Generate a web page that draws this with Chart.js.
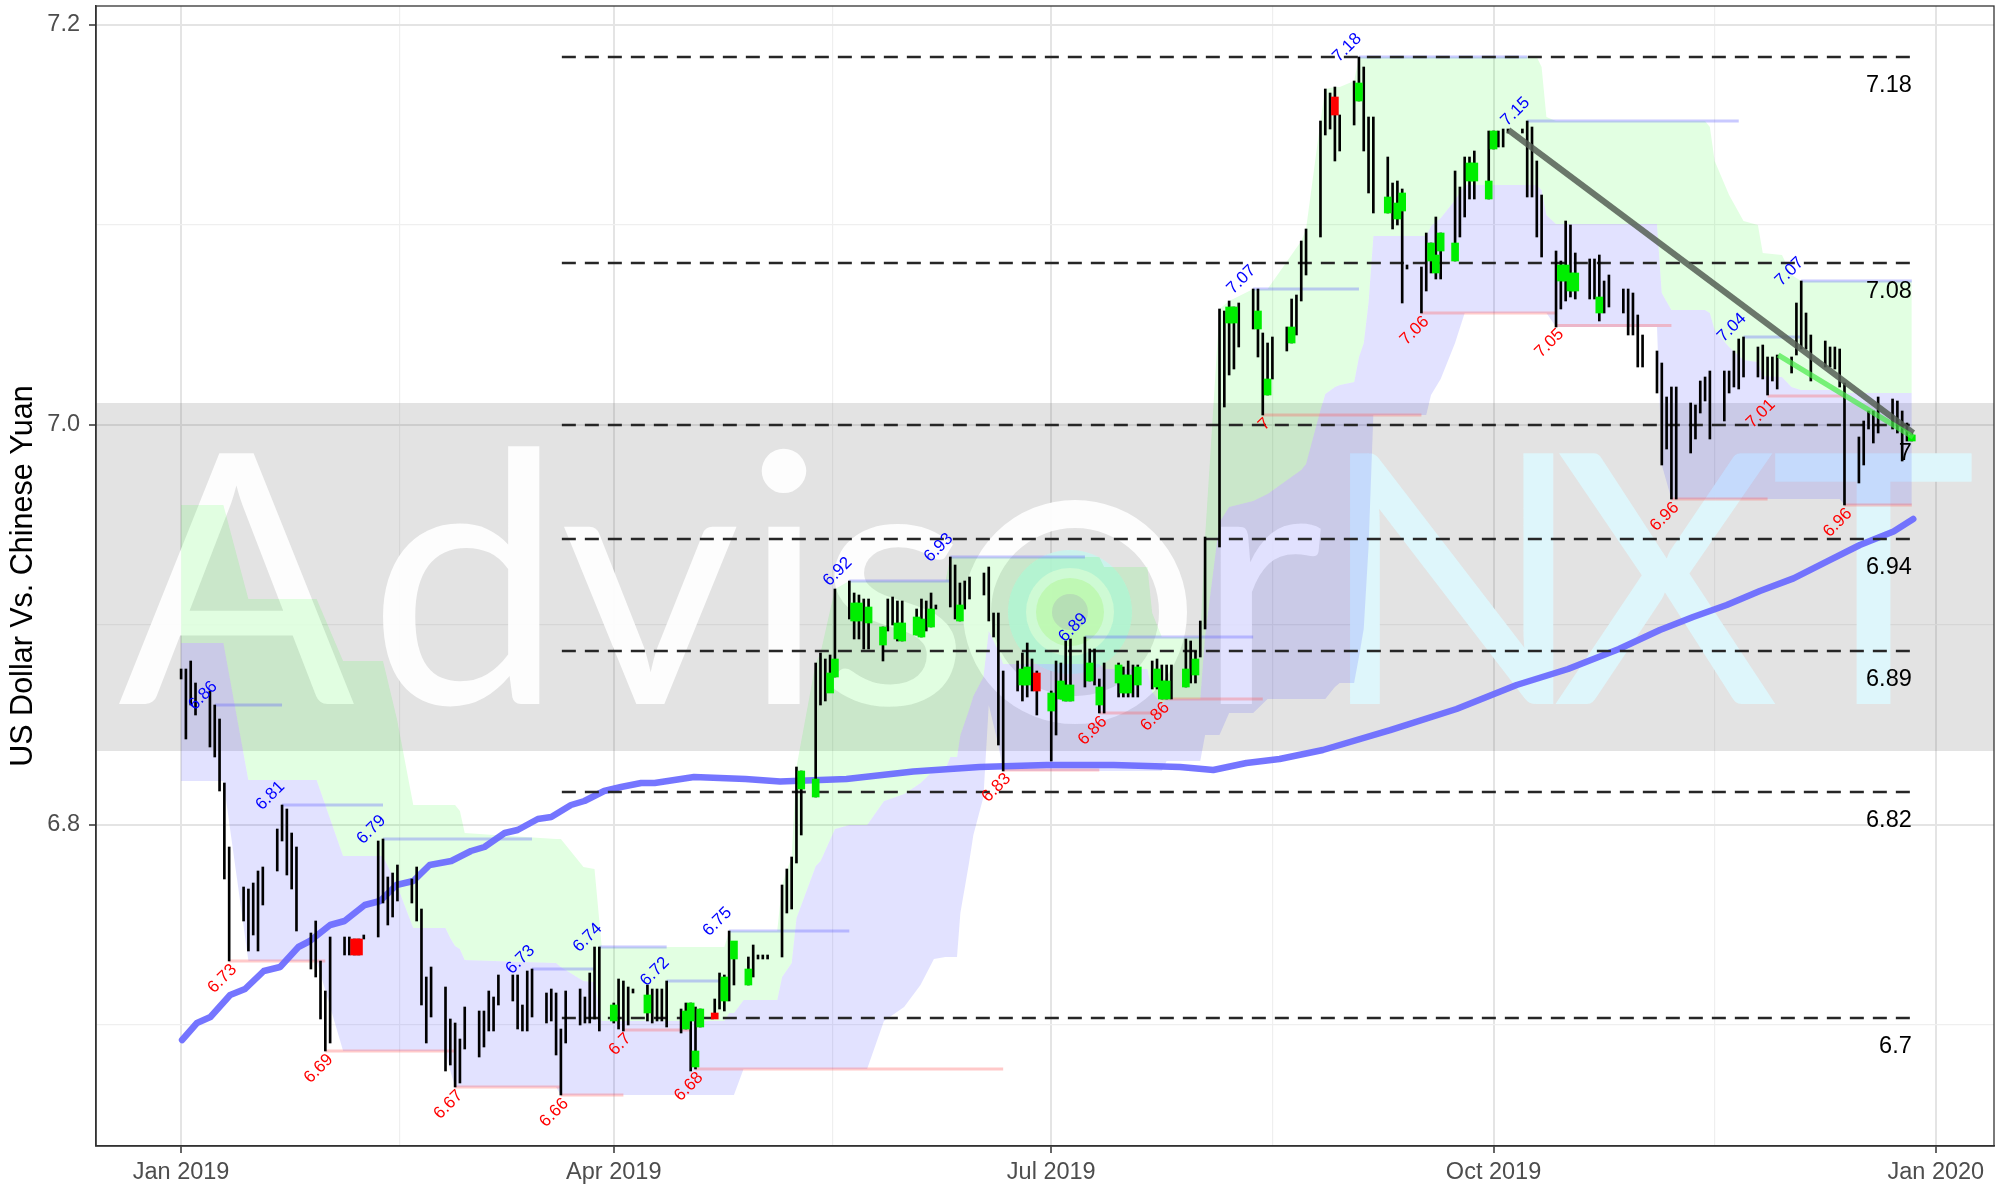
<!DOCTYPE html>
<html>
<head>
<meta charset="utf-8">
<script src="https://cdn.jsdelivr.net/npm/chart.js@4.4.1/dist/chart.umd.min.js"></script>
<style>
  html, body { margin: 0; padding: 0; background: #ffffff; }
  #wrap { width: 2015px; height: 1188px; }
</style>
</head>
<body>
<div id="wrap"><canvas id="fxChart" width="2015" height="1188"></canvas></div>
<script>
// x values are calendar days counted from 2019-01-01 (day 0)

// daily candles, one per weekday from Jan 1 to Dec 27
const candleHigh = [
  6.878,6.878,6.882,6.871,
  6.867,6.860,6.853,6.821,6.789,
  6.769,6.768,6.771,6.777,6.779,
  6.798,6.810,6.808,6.796,6.789,
  6.746,6.752,6.732,6.717,6.744,
  6.744,6.744,6.743,6.743,6.745,
  6.792,6.793,6.774,6.776,6.780,
  6.773,6.779,6.758,6.724,6.729,
  6.719,6.703,6.701,6.693,6.709,
  6.707,6.707,6.717,6.714,6.725,
  6.725,6.725,6.710,6.727,6.728,
  6.716,6.718,6.716,6.698,6.717,
  6.718,6.714,6.726,6.739,6.739,
  6.711,6.723,6.722,6.719,6.718,
  6.720,6.718,6.718,6.718,6.722,
  6.708,6.711,6.711,6.709,6.708,
  6.713,6.726,6.725,6.747,6.741,
  6.734,6.740,6.735,6.735,6.735,
  6.770,6.778,6.784,6.829,6.827,
  6.881,6.886,6.883,6.885,6.918,
  6.922,6.916,6.915,6.913,6.913,
  6.899,6.913,6.914,6.912,6.912,
  6.908,6.913,6.912,6.916,6.910,
  6.934,6.930,6.921,6.922,6.924,
  6.926,6.929,6.906,6.906,6.877,
  6.882,6.886,6.891,6.883,6.877,
  6.867,6.882,6.881,6.892,6.893,
  6.894,6.888,6.888,6.873,6.881,
  6.881,6.879,6.882,6.880,6.880,
  6.882,6.883,6.880,6.880,6.880,
  6.893,6.892,6.887,6.902,6.944,
  7.058,7.057,7.062,7.059,7.061,
  7.068,7.068,7.046,7.041,7.044,
  7.049,7.063,7.065,7.092,7.098,
  7.152,7.168,7.166,7.169,7.155,
  7.172,7.184,7.179,7.154,7.154,
  7.134,7.121,7.122,7.118,7.080,
  7.079,7.096,7.091,7.104,7.096,
  7.127,7.119,7.134,7.134,7.137,
  7.147,7.147,7.147,7.148,7.148,
  7.148,7.152,7.149,7.132,7.115,
  7.087,7.082,7.102,7.100,7.086,
  7.083,7.083,7.085,7.072,7.075,
  7.068,7.068,7.066,7.055,7.045,
  7.037,7.031,7.014,7.019,7.019,
  7.011,7.010,7.022,7.024,7.027,
  7.027,7.027,7.037,7.043,7.044,
  7.039,7.040,7.034,7.034,7.035,
  7.034,7.061,7.072,7.056,7.045,
  7.042,7.039,7.039,7.038,7.021,
  6.994,7.002,7.007,7.007,7.014,
  7.013,7.012,7.007,7.001,6.996
];
const candleLow = [
  6.873,6.843,6.860,6.855,
  6.839,6.834,6.817,6.773,6.732,
  6.752,6.737,6.745,6.737,6.760,
  6.777,6.792,6.775,6.768,6.747,
  6.728,6.724,6.703,6.687,6.691,
  6.735,6.735,6.735,6.735,6.743,
  6.744,6.761,6.750,6.754,6.762,
  6.761,6.752,6.710,6.691,6.704,
  6.677,6.680,6.669,6.671,6.688,
  6.684,6.689,6.697,6.697,6.710,
  6.712,6.698,6.697,6.697,6.704,
  6.701,6.702,6.685,6.665,6.691,
  6.700,6.701,6.701,6.703,6.697,
  6.701,6.698,6.697,6.700,6.716,
  6.702,6.701,6.702,6.702,6.699,
  6.696,6.698,6.677,6.678,6.699,
  6.704,6.708,6.707,6.712,6.720,
  6.720,6.724,6.733,6.733,6.733,
  6.734,6.756,6.758,6.781,6.795,
  6.814,6.860,6.862,6.867,6.874,
  6.903,6.893,6.893,6.888,6.888,
  6.882,6.897,6.900,6.892,6.892,
  6.895,6.894,6.897,6.899,6.908,
  6.909,6.903,6.902,6.908,6.913,
  6.915,6.902,6.894,6.840,6.827,
  6.867,6.862,6.864,6.867,6.855,
  6.832,6.845,6.863,6.862,6.862,
  6.869,6.872,6.870,6.856,6.856,
  6.864,6.864,6.864,6.864,6.864,
  6.868,6.868,6.863,6.863,6.863,
  6.869,6.871,6.871,6.884,6.898,
  6.939,7.009,7.025,7.028,7.039,
  7.048,7.034,7.005,7.015,7.023,
  7.037,7.041,7.045,7.062,7.075,
  7.094,7.145,7.148,7.132,7.137,
  7.150,7.162,7.137,7.116,7.106,
  7.106,7.098,7.100,7.061,7.078,
  7.056,7.067,7.076,7.073,7.073,
  7.082,7.094,7.104,7.113,7.113,
  7.113,7.138,7.139,7.139,7.146,
  7.146,7.114,7.114,7.094,7.084,
  7.049,7.058,7.062,7.064,7.063,
  7.063,7.063,7.052,7.056,7.059,
  7.056,7.045,7.045,7.029,7.029,
  7.016,6.980,6.988,6.963,6.963,
  6.986,6.993,7.006,7.012,6.993,
  7.002,7.016,7.019,7.018,7.024,
  7.024,7.023,7.015,7.022,7.018,
  7.026,7.035,7.038,7.038,7.022,
  7.029,7.029,7.028,7.019,6.960,
  6.971,6.980,6.998,6.991,6.996,
  6.998,6.996,6.982,6.992,6.992
];

// candle bodies that are visible in the picture (day, open, close)
const bodyDays  = [36,37,90,97,105,106,107,108,111,113,115,118,129,132,135,136,140,141,143,146,149,150,153,154,156,162,175,176,178,181,183,184,185,189,191,195,196,197,199,203,204,205,209,211,218,219,224,226,231,240,245,251,253,254,260,261,262,265,268,269,272,273,287,288,289,290,295,360];
const bodyOpen  = [6.743,6.743,6.702,6.706,6.698,6.702,6.679,6.699,6.706,6.712,6.733,6.720,6.818,6.814,6.866,6.874,6.902,6.902,6.901,6.890,6.893,6.892,6.895,6.894,6.899,6.902,6.870,6.870,6.876,6.857,6.863,6.862,6.862,6.872,6.860,6.871,6.866,6.866,6.870,6.869,6.863,6.863,6.869,6.875,7.051,7.051,7.048,7.015,7.041,7.164,7.162,7.106,7.103,7.107,7.082,7.076,7.087,7.082,7.122,7.122,7.113,7.138,7.072,7.072,7.067,7.067,7.056,6.992];
const bodyClose = [6.735,6.735,6.710,6.715,6.707,6.711,6.687,6.708,6.703,6.724,6.742,6.728,6.827,6.823,6.876,6.883,6.911,6.911,6.909,6.899,6.901,6.901,6.904,6.903,6.908,6.910,6.878,6.879,6.867,6.866,6.872,6.870,6.870,6.881,6.869,6.880,6.875,6.875,6.879,6.878,6.872,6.872,6.878,6.883,7.059,7.059,7.057,7.023,7.049,7.155,7.171,7.114,7.111,7.116,7.091,7.085,7.096,7.091,7.131,7.131,7.122,7.147,7.080,7.080,7.076,7.076,7.064,6.995];

// channel: upper edge, middle line, lower edge
const cloudDays = [0,8.8,14,28.2,33.7,42,44.9,48.3,55,56,
  57,58,59,78,79,83.7,86,87.5,113,114,
  115,117,124,125,127,128,132,133,136,139,
  142.7,146.2,150.4,153.8,156.6,159,160,161.4,162.1,163.9,
  164.8,166.9,168,170,171,191,192,201,202,204,
  205,212,213,216,218,223,226,233,234,237,
  238,240,241,244,245,246,247,248,259,260,
  262,265,267,282,283,284,286,307,308,310,
  317,318,319,322,325,328,329,333,335,337,
  345,346,360];
const cloudTop = [6.960,6.960,6.913,6.913,6.882,6.882,6.853,6.810,6.810,6.810,
  6.810,6.807,6.796,6.793,6.793,6.779,6.778,6.739,6.739,6.747,
  6.747,6.747,6.747,6.770,6.784,6.829,6.881,6.886,6.918,6.922,
  6.922,6.922,6.922,6.922,6.922,6.922,6.934,6.934,6.934,6.934,
  6.934,6.934,6.934,6.934,6.934,6.934,6.929,6.929,6.906,6.894,
  6.894,6.894,6.944,7.058,7.062,7.068,7.068,7.092,7.098,7.152,
  7.168,7.169,7.169,7.172,7.184,7.184,7.184,7.184,7.184,7.184,
  7.184,7.184,7.184,7.184,7.179,7.154,7.152,7.152,7.152,7.152,
  7.152,7.149,7.132,7.115,7.102,7.100,7.086,7.085,7.075,7.072,
  7.072,7.072,7.072];
const cloudMid = [6.891,6.891,6.8225,6.8225,6.7845,6.7845,6.770,6.7485,6.7485,6.7435,
  6.7395,6.738,6.7325,6.731,6.729,6.722,6.7215,6.702,6.702,6.706,
  6.706,6.7125,6.7125,6.724,6.731,6.7535,6.7795,6.782,6.798,6.800,
  6.800,6.812,6.8155,6.821,6.8275,6.828,6.834,6.834,6.845,6.8575,
  6.8645,6.874,6.897,6.887,6.8805,6.8805,6.878,6.878,6.8665,6.8605,
  6.863,6.863,6.8945,6.9515,6.959,6.962,6.9655,6.9775,6.9805,7.0075,
  7.0155,7.019,7.020,7.0215,7.034,7.041,7.0615,7.0945,7.0945,7.0995,
  7.1035,7.1125,7.120,7.120,7.1175,7.105,7.1005,7.1005,7.066,7.0575,
  7.0575,7.056,7.0475,7.039,7.0325,7.0315,7.0245,7.024,7.019,7.0175,
  7.0175,7.016,7.016];
const cloudBot = [6.822,6.822,6.732,6.732,6.687,6.687,6.687,6.687,6.687,6.677,
  6.669,6.669,6.669,6.669,6.665,6.665,6.665,6.665,6.665,6.665,
  6.665,6.678,6.678,6.678,6.678,6.678,6.678,6.678,6.678,6.678,
  6.678,6.702,6.709,6.720,6.733,6.734,6.734,6.734,6.756,6.781,
  6.795,6.814,6.860,6.840,6.827,6.827,6.827,6.827,6.827,6.827,
  6.832,6.832,6.845,6.845,6.856,6.856,6.863,6.863,6.863,6.863,
  6.863,6.869,6.871,6.871,6.884,6.898,6.939,7.005,7.005,7.015,
  7.023,7.041,7.056,7.056,7.056,7.056,7.049,7.049,6.980,6.963,
  6.963,6.963,6.963,6.963,6.963,6.963,6.963,6.963,6.963,6.963,
  6.963,6.960,6.960];

// moving average
const maDays = [0.2,3.3,6.1,10.2,13.3,17.2,20.6,24.4,26.8,31,34,38.2,41.4,44.8,48.3,51.7,56.2,60.3,63.1,67.3,70,74.2,77,81.1,83.9,88,91.5,95.7,98.5,106.7,117.4,124.6,138.4,152.3,166.1,180,194,207.8,214.7,221.6,228.5,237.5,251.5,265.3,277.8,288.5,299.1,307.6,314.5,321.5,328.4,335.4,342.3,349.2,356.2,360.3];
const maValues = [6.6925,6.701,6.704,6.715,6.718,6.727,6.729,6.739,6.742,6.750,6.752,6.760,6.762,6.770,6.772,6.780,6.782,6.787,6.789,6.796,6.7975,6.803,6.804,6.810,6.812,6.817,6.819,6.821,6.821,6.824,6.823,6.8217,6.823,6.8267,6.829,6.830,6.830,6.829,6.8275,6.831,6.833,6.8375,6.8474,6.858,6.870,6.878,6.888,6.8975,6.904,6.910,6.917,6.9233,6.9317,6.940,6.9467,6.953];

// swing highs (blue) and swing lows (red): label, day, value, day where the line stops
const highText = ['6.86','6.81','6.79','6.73','6.74','6.72','6.75','6.92','6.93','6.89','7.07','7.18','7.15','7.04','7.07'];
const highDay  = [7,21,42,73,87,101,114,139,160,188,223,245,280,325,337];
const highVal  = [6.860,6.810,6.793,6.728,6.739,6.722,6.747,6.922,6.934,6.894,7.068,7.184,7.152,7.044,7.072];
const highEnd  = [21,42,73,86,101,114,139,160,188,223,245,280,324,337,360];
const lowText = ['6.73','6.69','6.67','6.66','6.7','6.68','6.83','6.86','6.86','7','7.06','7.05','6.96','7.01','6.96'];
const lowDay  = [10,30,57,79,92,107,171,191,204,225,258,286,310,330,346];
const lowVal  = [6.732,6.687,6.669,6.665,6.6975,6.678,6.8275,6.856,6.863,7.005,7.056,7.0497,6.963,7.0145,6.960];
const lowEnd  = [30,57,79,92,106,171,191,204,225,258,286,310,330,346,360];

// horizontal levels
const levelVal  = [7.184,7.081,7.0,6.943,6.887,6.8165,6.7035];
const levelText = ['7.18','7.08','7','6.94','6.89','6.82','6.7'];
const levelFrom = 79.2;
const levelTo = 360;

// trend lines
const trendDays = [276.1, 360.3];
const trendVals = [7.1475, 6.996];
const trend2Days = [332.2, 360.3];
const trend2Vals = [7.035, 6.994];

// shaded zone
const zoneLow = 6.837;
const zoneHigh = 7.011;

// axis
const tickDays = [0, 45.5, 90, 135.5, 181, 227, 273, 319, 365];
const tickNames = {0: 'Jan 2019', 90: 'Apr 2019', 181: 'Jul 2019', 273: 'Oct 2019', 365: 'Jan 2020'};

// ---- build ----
const candleDays = [];
for (let d = 0; d <= 360; d++) {
  const wd = d % 7; // day 0 is a Tuesday
  if (wd !== 4 && wd !== 5) candleDays.push(d);
}
if (candleDays.length !== candleHigh.length || candleHigh.length !== candleLow.length) {
  console.error('candle length mismatch', candleDays.length, candleHigh.length, candleLow.length);
}

const FONT = "'Liberation Sans', Arial, Helvetica, sans-serif";
const pts = (xs, ys) => xs.map((x, i) => ({x: x, y: ys[i]}));

const datasets = [];
datasets.push({ type: 'line', data: pts(cloudDays, cloudTop), borderWidth: 0, pointRadius: 0, fill: false, order: 30 });
datasets.push({ type: 'line', data: pts(cloudDays, cloudMid), borderWidth: 0, pointRadius: 0, fill: '-1',
  backgroundColor: 'rgba(0,255,0,0.115)', order: 30 });
datasets.push({ type: 'line', data: pts(cloudDays, cloudBot), borderWidth: 0, pointRadius: 0, fill: '-1',
  backgroundColor: 'rgba(0,0,255,0.115)', order: 30 });

highDay.forEach((d, i) => {
  datasets.push({ type: 'line', data: [{x: d, y: highVal[i]}, {x: highEnd[i], y: highVal[i]}],
    borderColor: 'rgba(90,90,255,0.33)', borderWidth: 3, pointRadius: 0, fill: false, order: 25 });
});
lowDay.forEach((d, i) => {
  datasets.push({ type: 'line', data: [{x: d, y: lowVal[i]}, {x: lowEnd[i], y: lowVal[i]}],
    borderColor: 'rgba(255,90,90,0.33)', borderWidth: 3, pointRadius: 0, fill: false, order: 25 });
});

datasets.push({ type: 'line', data: pts(maDays, maValues), borderColor: 'rgba(105,105,255,0.92)',
  borderWidth: 6.5, pointRadius: 0, fill: false, order: 18, borderJoinStyle: 'round', borderCapStyle: 'round' });

levelVal.forEach(v => {
  datasets.push({ type: 'line', data: [{x: levelFrom, y: v}, {x: levelTo, y: v}],
    borderColor: '#262626', borderWidth: 2.4, borderDash: [14, 9], pointRadius: 0, fill: false, order: 15 });
});

datasets.push({ type: 'bar', data: candleDays.map((d, i) => ({x: d, y: [candleLow[i], candleHigh[i]]})),
  backgroundColor: '#000000', borderWidth: 0, barThickness: 2, grouped: false, order: 10 });

datasets.push({ type: 'bar', data: bodyDays.map((d, i) => ({x: d, y: [Math.min(bodyOpen[i], bodyClose[i]), Math.max(bodyOpen[i], bodyClose[i])]})),
  backgroundColor: bodyDays.map((d, i) => bodyClose[i] >= bodyOpen[i] ? '#00ee00' : '#ff0000'),
  borderWidth: 0, barThickness: 7, minBarLength: 2, grouped: false, order: 9 });

datasets.push({ type: 'line', data: pts(trendDays, trendVals), borderColor: 'rgba(85,95,85,0.85)',
  borderWidth: 6, pointRadius: 0, fill: false, order: 5 });
datasets.push({ type: 'line', data: pts(trend2Days, trend2Vals), borderColor: 'rgba(70,235,70,0.7)',
  borderWidth: 5.5, pointRadius: 0, fill: false, order: 4 });

// shaded zone, watermark, labels, frame
const decor = {
  id: 'decor',
  beforeDatasetsDraw(chart) {
    const {ctx, chartArea: a, scales: {x, y}} = chart;
    ctx.save();
    ctx.beginPath();
    ctx.rect(a.left, a.top, a.right - a.left, a.bottom - a.top);
    ctx.clip();
    const yTop = y.getPixelForValue(zoneHigh), yBot = y.getPixelForValue(zoneLow);
    ctx.fillStyle = 'rgba(120,120,120,0.207)';
    ctx.fillRect(a.left, yTop, a.right - a.left, yBot - yTop);

    // watermark
    ctx.font = "400 350px Lato, 'Open Sans', sans-serif";
    ctx.textBaseline = 'alphabetic';
    const base = 704;
    const white = 'rgba(255,255,255,0.93)';
    const cyan = 'rgba(222,247,252,0.97)';
    const glyphs = [['A',118,white],['d',368,white],['v',560,white],['i',742,white],['s',818,white],
                    ['r',1196,white],['N',1318,cyan],['X',1552,cyan],['T',1770,cyan]];
    ctx.textAlign = 'left';
    glyphs.forEach(g => { ctx.fillStyle = g[2]; ctx.fillText(g[0], g[1], base); });
    // ring with logo
    const cx = 1075, cy = 612;
    ctx.strokeStyle = white; ctx.lineWidth = 28;
    ctx.beginPath(); ctx.arc(cx, cy, 98, 0, Math.PI * 2); ctx.stroke();
    ctx.fillStyle = 'rgba(200,246,238,0.85)';
    ctx.beginPath(); ctx.arc(cx - 5, cy, 62, 0, Math.PI * 2); ctx.fill();
    ctx.fillStyle = 'rgba(236,250,240,0.9)';
    ctx.beginPath(); ctx.arc(cx - 5, cy, 44, 0, Math.PI * 2); ctx.fill();
    ctx.fillStyle = 'rgba(214,248,200,0.9)';
    ctx.beginPath(); ctx.arc(cx - 5, cy, 34, 0, Math.PI * 2); ctx.fill();
    ctx.fillStyle = 'rgba(205,215,205,0.9)';
    ctx.beginPath(); ctx.arc(cx - 5, cy, 18, 0, Math.PI * 2); ctx.fill();
    ctx.restore();
  },
  afterDatasetsDraw(chart) {
    const {ctx, chartArea: a, scales: {x, y}} = chart;
    ctx.save();
    ctx.font = '17px ' + FONT;
    ctx.textAlign = 'right';
    ctx.textBaseline = 'middle';
    const rot = (px, py, txt, color) => {
      ctx.save();
      ctx.translate(px, py);
      ctx.rotate(-Math.PI / 4);
      ctx.fillStyle = color;
      ctx.fillText(txt, 0, 0);
      ctx.restore();
    };
    highDay.forEach((d, i) => rot(x.getPixelForValue(d), y.getPixelForValue(highVal[i]) - 21, highText[i], '#0000ff'));
    lowDay.forEach((d, i) => rot(x.getPixelForValue(d) + 5, y.getPixelForValue(lowVal[i]) + 6, lowText[i], '#ff0000'));

    ctx.font = '23.5px ' + FONT;
    ctx.fillStyle = '#000000';
    ctx.textAlign = 'right';
    ctx.textBaseline = 'alphabetic';
    levelVal.forEach((v, i) => ctx.fillText(levelText[i], x.getPixelForValue(levelTo), y.getPixelForValue(v) + 35));

    ctx.strokeStyle = '#333333';
    ctx.lineWidth = 1.3;
    ctx.strokeRect(a.left, a.top, a.right - a.left, a.bottom - a.top);
    ctx.restore();
  }
};

const isMajorY = v => Math.abs(Math.round(v * 10) % 2) === 0;

new Chart(document.getElementById('fxChart').getContext('2d'), {
  type: 'line',
  data: { datasets: datasets },
  options: {
    responsive: false,
    animation: false,
    devicePixelRatio: 1,
    layout: { padding: { top: 6, right: 21, bottom: 0, left: 0 } },
    plugins: { legend: { display: false }, tooltip: { enabled: false } },
    scales: {
      x: {
        type: 'linear',
        min: -17.7,
        max: 377.1,
        offset: false,
        grid: {
          offset: false,
          color: c => (c.tick && tickNames[c.tick.value] !== undefined) ? '#e4e4e4' : '#efefef',
          lineWidth: c => (c.tick && tickNames[c.tick.value] !== undefined) ? 2 : 1.2,
          tickLength: 7,
          tickColor: c => (c.tick && tickNames[c.tick.value] !== undefined) ? '#333333' : 'rgba(0,0,0,0)',
          tickWidth: 1.5
        },
        border: { display: true, color: '#333333', width: 1.5 },
        afterBuildTicks: s => { s.ticks = tickDays.map(v => ({value: v})); },
        afterFit: s => { s.height = 42; s.paddingLeft = 0; s.paddingRight = 0; },
        ticks: {
          autoSkip: false,
          maxRotation: 0,
          padding: 5,
          color: '#4d4d4d',
          font: { family: FONT, size: 23.5 },
          callback: v => tickNames[v] !== undefined ? tickNames[v] : ''
        }
      },
      y: {
        type: 'linear',
        min: 6.6395,
        max: 7.2095,
        grid: {
          color: c => (c.tick && isMajorY(c.tick.value)) ? '#e4e4e4' : '#efefef',
          lineWidth: c => (c.tick && isMajorY(c.tick.value)) ? 2 : 1.2,
          tickLength: 7,
          tickColor: c => (c.tick && isMajorY(c.tick.value)) ? '#333333' : 'rgba(0,0,0,0)',
          tickWidth: 1.5
        },
        border: { display: true, color: '#333333', width: 1.5 },
        afterFit: s => { s.width = 96; s.paddingTop = 0; s.paddingBottom = 0; },
        title: {
          display: true,
          text: 'US Dollar Vs. Chinese Yuan',
          color: '#000000',
          font: { family: FONT, size: 30.5 },
          padding: { top: 5, bottom: 0 }
        },
        ticks: {
          stepSize: 0.1,
          includeBounds: false,
          padding: 9,
          color: '#4d4d4d',
          font: { family: FONT, size: 23.5 },
          callback: v => isMajorY(v) ? v.toFixed(1) : ''
        }
      }
    }
  },
  plugins: [decor]
});
</script>
</body>
</html>
